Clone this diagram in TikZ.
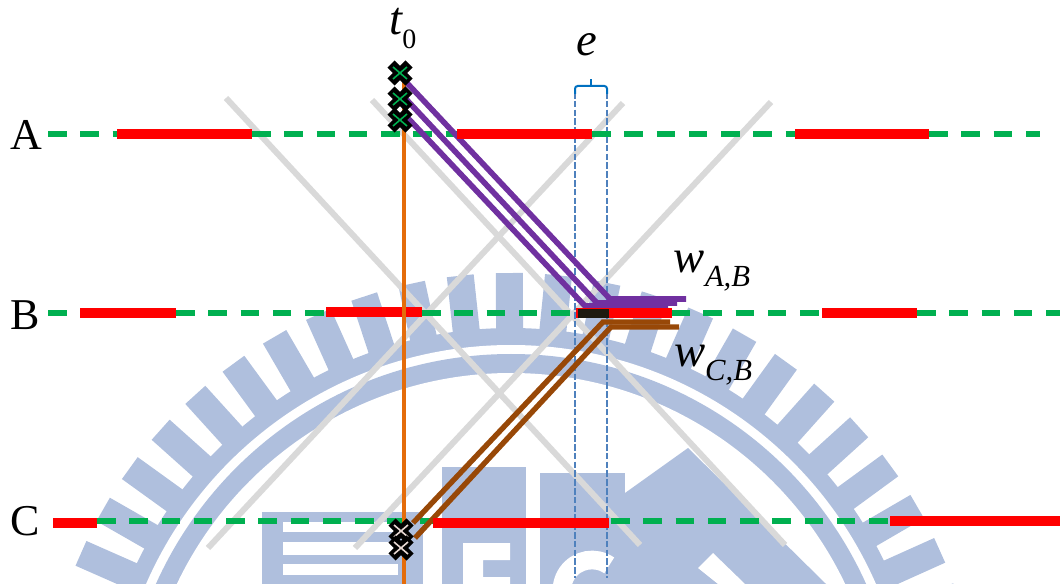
\documentclass[tikz,border=0pt]{standalone}
\usepackage{fontspec}
\setmainfont{Liberation Serif}
\definecolor{crest}{RGB}{175,191,221}
\definecolor{track}{RGB}{0,176,80}
\definecolor{slot}{RGB}{255,0,0}
\definecolor{guide}{RGB}{217,217,217}
\definecolor{probe}{RGB}{228,108,10}
\definecolor{viola}{RGB}{112,48,160}
\definecolor{umber}{RGB}{152,72,7}
\definecolor{edgeblue}{RGB}{79,129,189}
\definecolor{bracketblue}{RGB}{0,112,192}
\definecolor{overlap}{RGB}{30,26,16}
\definecolor{palex}{RGB}{230,215,210}
\newcommand{\sublabel}[3]{#1\raisebox{-0.3em}{\fontsize{#3}{#3}\selectfont #2}}
\tikzset{
  soft/.style={preaction={draw=black,opacity=.22,transform canvas={yshift=-1.2pt}}},
  greenline/.style={track, line width=3.8pt, dash pattern=on 13.9pt off 10.3pt,
    preaction={draw=black,opacity=.22,dash pattern=on 13.9pt off 10.3pt,transform canvas={yshift=-1.2pt}}},
  redbar/.style={slot, line width=7.5pt, soft},
  greyline/.style={guide, line width=4.5pt},
  purpleline/.style={viola, line width=4.2pt, miter limit=20},
  brownline/.style={umber, line width=4pt, miter limit=20},
  window/.style={edgeblue, line width=1.8pt, dash pattern=on 5pt off 1.6pt},
  letter/.style={font=\fontsize{33}{33}\selectfont, inner sep=0pt},
  mathlabel/.style={font=\fontsize{35}{35}\selectfont\itshape, inner sep=0pt},
  hit/.pic={
    \draw[black, line width=7.5pt] (-9,-9) -- (9,9) (-9,9) -- (9,-9);
    \draw[pic actions, line width=1.2pt] (-7,-6) -- (7,6) (-7,6) -- (7,-6);
  },
}
\begin{document}
\begin{tikzpicture}[x=0.75pt,y=-0.75pt]
  \useasboundingbox (0,0) rectangle (1060,584);
  % emblem behind the diagram
  \begin{scope}
    \clip (0,0) rectangle (1060,584);
    \coordinate (hub) at (511,743);
    \foreach \a in {-84,-78,...,84}
      \fill[crest,rotate around={\a+0.2:(hub)}] (497.5,335) rectangle (524.5,273);
    \fill[crest] (hub) circle (415);
    \fill[white] (hub) circle (398);
    \fill[crest] (hub) circle (389);
    \fill[white] (hub) circle (370);
    % left block
    \fill[crest] (262,512) rectangle (423,584);
    \foreach \ya/\yb in {522/532,542/555,564/575}
      \fill[white] (283,\ya) rectangle (398,\yb);
    % middle blocks
    \fill[crest] (442,467) rectangle (526,584);
    \fill[white] (463,543) rectangle (510,560) (463,543) rectangle (483,584) (483,577) rectangle (510,584);
    \fill[crest] (540,473) rectangle (625,584);
    \draw[white,line width=14pt] (609.2,565.4) arc[start angle=-55,end angle=-190,radius=30];
    % right wedge
    \fill[crest] (688,448) -- (625,493) -- (625,584) -- (826,584) -- cycle;
    \fill[white] (713,553) -- (698,568) -- (718,584) -- (745,584) -- cycle;
  \end{scope}
  % grey lines
  \draw[greyline] (226,98) -- (640,545);
  \draw[greyline] (372,100) -- (785,545);
  \draw[greyline] (208,548) -- (623,103);
  \draw[greyline] (355,548) -- (771,102);
  % window
  \draw[window] (575,92) -- (575,578);
  \draw[window] (607,92) -- (607,578);
  \draw[bracketblue,line width=1.5pt,rounded corners=2pt] (575,94) -- (575,86) -- (607,86) -- (607,94);
  \draw[bracketblue,line width=1.5pt] (591,86) -- (591,79);
  % green tracks
  \foreach \xa/\xb in {48/117,252/457,592/795,929/1040}
    \draw[greenline] (\xa,134) -- (\xb,134);
  \foreach \xa/\xb in {48/80,176/326,422/576,671/822,917/1060}
    \draw[greenline] (\xa,313) -- (\xb,313);
  \foreach \xa/\xb in {97/433,611/890}
    \draw[greenline] (\xa,521) -- (\xb,521);
  % purple and brown paths
  \coordinate (pa) at (407,83);
  \coordinate (pb) at (405,98);
  \coordinate (pc) at (405,115);
  \draw[purpleline] (pc) -- (585,306) -- (668,306);
  \draw[purpleline] (pb) -- (597,303) -- (677,303);
  \draw[purpleline] (pa) -- (610,299) -- (686,299);
  \coordinate (ba) at (413,523);
  \coordinate (bb) at (415,538);
  \draw[brownline] (bb) -- (611,327) -- (679,327);
  \draw[brownline] (ba) -- (603,322) -- (670,322);
  % red slots
  \foreach \xa/\xb in {117/252,457/592,795/929}
    \draw[redbar] (\xa,134) -- (\xb,134);
  \foreach \xa/\xb/\yy in {80/176/313.5,326/422/312,576/672/313,822/917/313.5}
    \draw[redbar] (\xa,\yy) -- (\xb,\yy);
  \foreach \xa/\xb/\yy in {53/97/523,433/609/523,890/1060/521}
    \draw[redbar] (\xa,\yy) -- (\xb,\yy);
  \fill[overlap] (578,309) rectangle (609,318);
  % time line
  \draw[probe,line width=2.6pt] (404,80) -- (404,584);
  % crossings
  \foreach \yy in {73,99,120}
    \pic[track] at (400,\yy) {hit};
  \foreach \yy in {531,548}
    \pic[palex] at (401,\yy) {hit};
  % labels
  \node[letter] (rowA) at (26,135) {A};
  \node[letter] (rowB) at (25,315) {B};
  \node[letter] (rowC) at (25,521) {C};
  \node[mathlabel] (tzero) at (403,29) {\sublabel{t}{\upshape 0}{21}};
  \node[mathlabel] (elabel) at (587,45) {e};
  \node[mathlabel] (wab) at (712,271) {\sublabel{w}{A,B}{23}};
  \node[mathlabel] (wcb) at (713,365) {\sublabel{w}{C,B}{23}};
\end{tikzpicture}
\end{document}
